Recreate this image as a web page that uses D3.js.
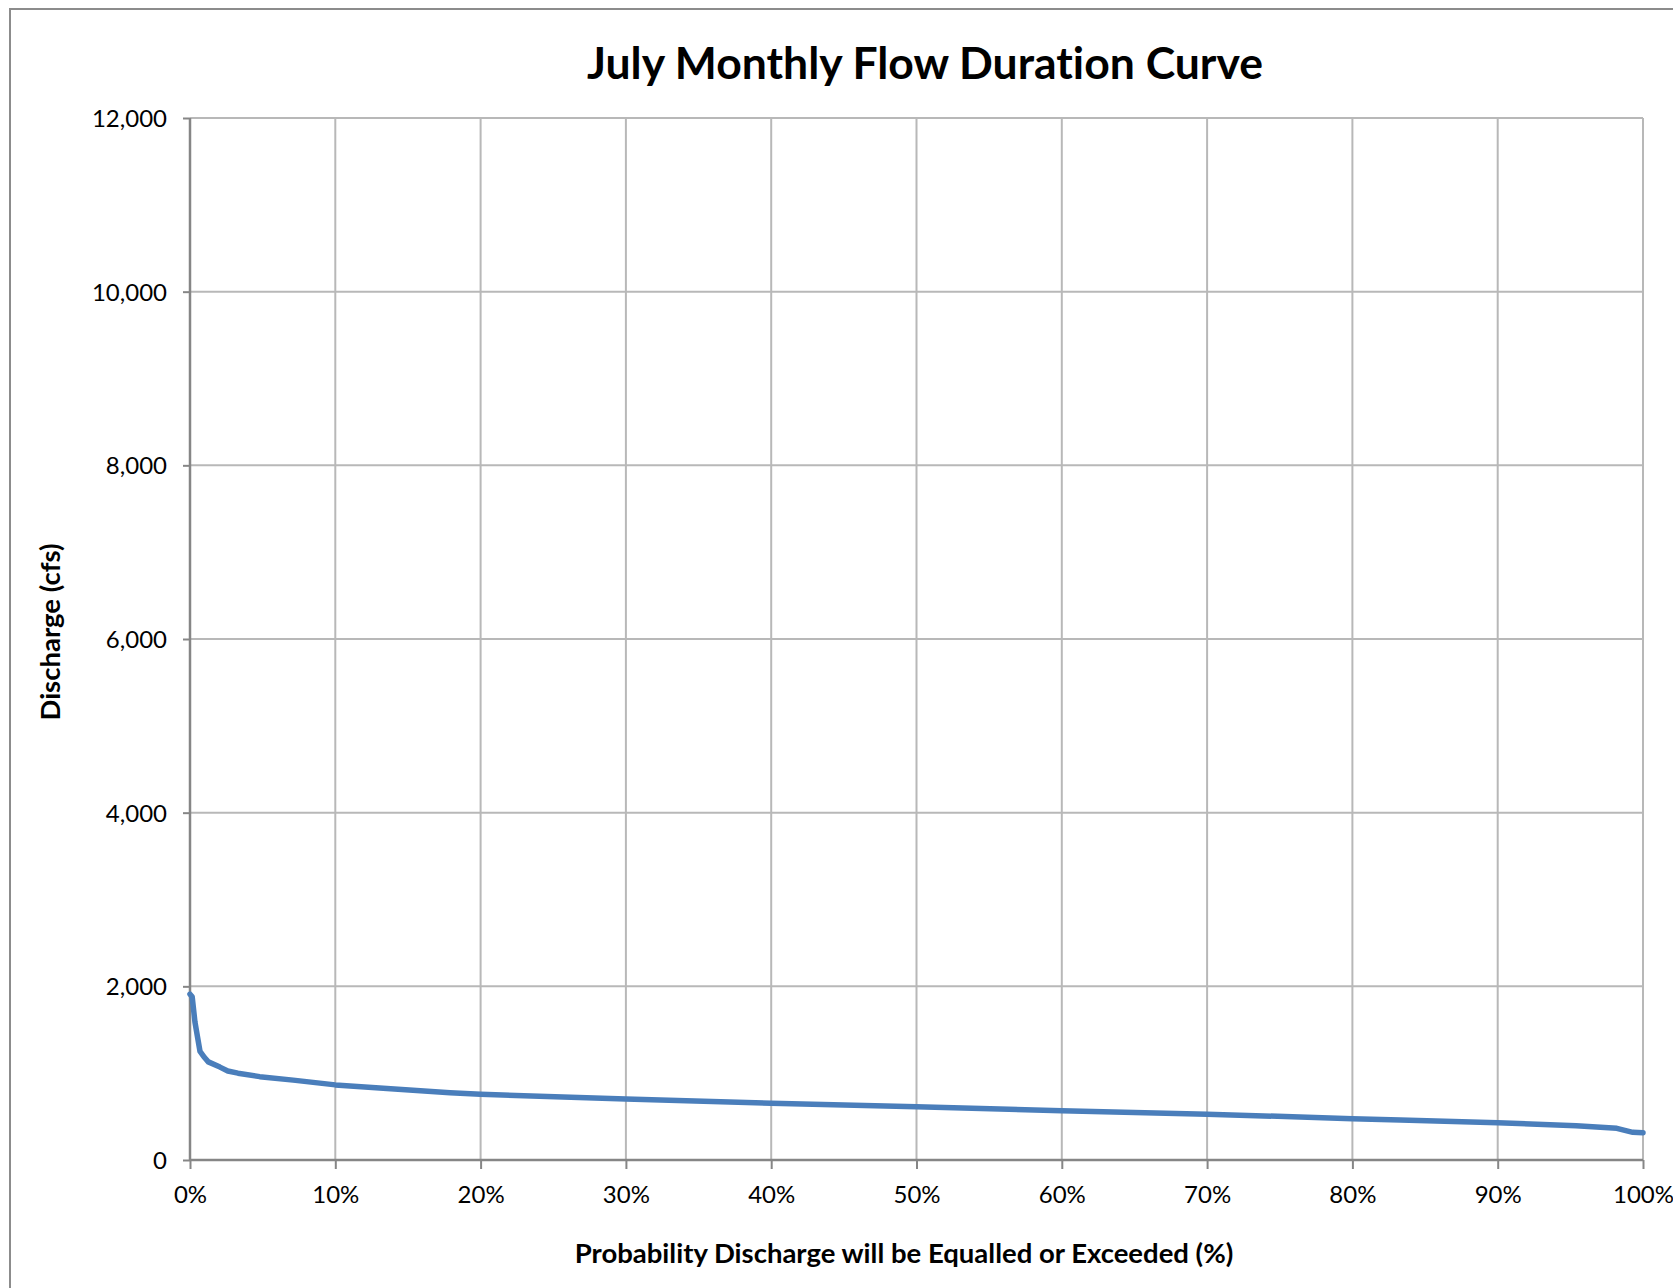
<!DOCTYPE html>
<html><head><meta charset="utf-8">
<script src="https://cdn.jsdelivr.net/npm/d3@7"></script>
<style>
html,body{margin:0;padding:0;background:#fff;}
svg{display:block;font-family:Lato,"Open Sans",sans-serif;font-variant-ligatures:none;}
</style></head>
<body><svg id="chart" width="1673" height="1288"></svg>
<script>
const titleText = "July Monthly Flow Duration Curve";
const xTitle = "Probability Discharge will be Equalled or Exceeded (%)";
const yTitle = "Discharge (cfs)";
const exceedPct = [0, 0.15, 0.34, 0.69, 1.0, 1.26, 2.06, 2.6, 3.3, 4.8, 7.1, 10, 13.3, 17.9, 20, 30, 40, 50, 60, 70, 80, 83.3, 90, 95.4, 98.2, 99.3, 100];
const discharge = [1910, 1880, 1590, 1250, 1180, 1130, 1070, 1025, 1000, 960, 920, 865, 825, 775, 756, 702, 653, 614, 568, 528, 476, 461, 430, 395, 365, 319, 314];
const yTicks = [0, 2000, 4000, 6000, 8000, 10000, 12000];
const xTicks = [0, 10, 20, 30, 40, 50, 60, 70, 80, 90, 100];

const svg = d3.select("#chart");
const L = 190, R = 1643, T = 118, B = 1160;

// outer chart frame
svg.append("rect").attr("x", 10).attr("y", 9).attr("width", 1700).attr("height", 1320)
  .attr("fill", "#fff").attr("stroke", "#8c8c8c").attr("stroke-width", 2);

const x = d3.scaleLinear().domain([0, 100]).range([L, R]);
const y = d3.scaleLinear().domain([0, 12000]).range([B, T]);

// gridlines
svg.append("g").selectAll("line").data(yTicks.filter(d => d > 0)).join("line")
  .attr("x1", L).attr("x2", R).attr("y1", d => y(d)).attr("y2", d => y(d))
  .attr("stroke", "#b8b8b8").attr("stroke-width", 2);
svg.append("g").selectAll("line").data(xTicks.filter(d => d > 0)).join("line")
  .attr("x1", d => x(d)).attr("x2", d => x(d)).attr("y1", T).attr("y2", B)
  .attr("stroke", "#b8b8b8").attr("stroke-width", 2);

// axes
const yAxis = d3.axisLeft(y).tickValues(yTicks).tickSize(7).tickPadding(16)
  .tickFormat(d3.format(","));
const gy = svg.append("g").attr("transform", `translate(${L},0)`).call(yAxis);
const xAxis = d3.axisBottom(x).tickValues(xTicks).tickSize(9).tickPadding(17)
  .tickFormat(d => d + "%");
const gx = svg.append("g").attr("transform", `translate(0,${B})`).call(xAxis);
[gx, gy].forEach(g => {
  g.select(".domain").attr("stroke", "#868686").attr("stroke-width", 2.5);
  g.selectAll(".tick line").attr("stroke", "#868686").attr("stroke-width", 2);
  g.selectAll(".tick text").attr("fill", "#000").style("font-size", "24px")
    .style("font-family", "Lato, 'Open Sans', sans-serif");
});
gy.select(".domain").attr("d", `M0,${T}V${B}`);
gy.selectAll(".tick text").attr("dy", "0.35em");
gx.select(".domain").attr("d", `M${L},0H${R}`);

// data line
const line = d3.line().x((d, i) => x(exceedPct[i])).y(d => y(d));
svg.append("path").datum(discharge).attr("d", line)
  .attr("fill", "none").attr("stroke", "#4a7ebb").attr("stroke-width", 5.5)
  .attr("stroke-linejoin", "round").attr("stroke-linecap", "round");

// titles
svg.append("text").attr("x", 925).attr("y", 79).attr("text-anchor", "middle")
  .style("font-size", "44.5px").style("font-weight", "bold").text(titleText);
svg.append("text").attr("x", 904).attr("y", 1263).attr("text-anchor", "middle")
  .style("font-size", "27.5px").style("font-weight", "bold").text(xTitle);
svg.append("text").attr("transform", "translate(60,632) rotate(-90)").attr("text-anchor", "middle")
  .style("font-size", "27.5px").style("font-weight", "bold").text(yTitle);
</script></body></html>
